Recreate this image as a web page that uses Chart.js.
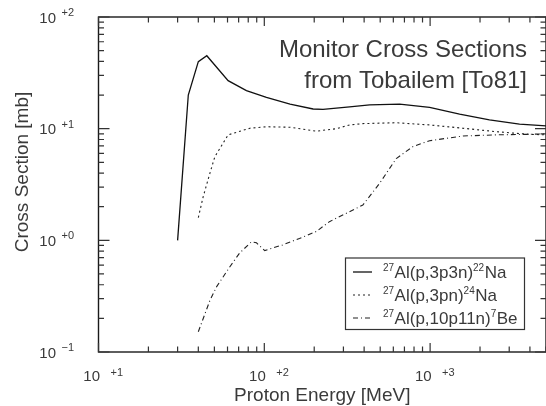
<!DOCTYPE html>
<html>
<head>
<meta charset="utf-8">
<script src="https://cdn.jsdelivr.net/npm/chart.js@4.4.1/dist/chart.umd.min.js"></script>
<style>
  html, body { margin: 0; padding: 0; background: #fff; }
  canvas { display: block; }
</style>
</head>
<body>
<canvas id="chart" width="546" height="406"></canvas>
<script>
// Tobailem [To81] monitor cross sections
const na22Energy = [30, 34.8, 40, 45, 60.5, 78, 103, 143, 197, 226, 327, 432, 655, 993, 1506, 2280, 3460, 5000];
const na22Sigma  = [1.0, 20, 39.8, 45, 26.9, 21.9, 19.1, 16.6, 15.0, 14.9, 15.7, 16.3, 16.6, 15.5, 13.5, 12.0, 11.0, 10.6];

const na24Energy = [40, 42.8, 47, 50.3, 60.5, 82, 103, 143, 206, 272, 327, 392, 625, 993, 1570, 2505, 3950, 5000];
const na24Sigma  = [1.6, 2.46, 4.0, 5.6, 8.8, 10.1, 10.4, 10.3, 9.5, 10.0, 10.8, 11.1, 11.3, 10.8, 10.1, 9.4, 8.9, 8.8];

const be7Energy = [40, 47, 51.6, 62, 71, 83.6, 89.7, 100.6, 129, 163, 206, 247, 393, 496, 625, 786, 993, 1580, 2505, 3950, 5000];
const be7Sigma  = [0.152, 0.29, 0.385, 0.58, 0.77, 0.97, 0.95, 0.81, 0.91, 1.04, 1.2, 1.47, 2.07, 3.24, 5.4, 6.9, 7.8, 8.6, 8.8, 8.9, 9.0];

// legend labels split as [superscript, text, superscript, text]
const seriesLabels = [
    ['27', 'Al(p,3p3n)', '22', 'Na'],
    ['27', 'Al(p,3pn)', '24', 'Na'],
    ['27', 'Al(p,10p11n)', '7', 'Be'],
];

const xDecades = [10, 100, 1000];
const yDecades = [0.1, 1, 10, 100];
const xRange = [10, 5000];
const yRange = [0.1, 100];

const titleLines = ['Monitor Cross Sections', 'from Tobailem [To81]'];
const xTitle = 'Proton Energy [MeV]';
const yTitle = 'Cross Section [mb]';

const FONT = '"Liberation Sans", Arial, Helvetica, sans-serif';
const INK = '#3a3a3a';

function zip(xs, ys) {
    return xs.map((x, i) => ({ x: x, y: ys[i] }));
}

// all 1..9 x 10^n positions inside a range
function logTicks(decades, min, max) {
    const out = [];
    decades.forEach(d => {
        for (let m = 1; m < 10; m++) {
            const v = d * m;
            if (v >= min * 0.999 && v <= max * 1.001) out.push(v);
        }
    });
    return out;
}

function isMajor(v) {
    const l = Math.log10(v);
    return Math.abs(l - Math.round(l)) < 1e-6;
}

function expText(v) {
    const e = Math.round(Math.log10(v));
    return e < 0 ? '\u2212' + (-e) : '+' + e;
}

const decorations = {
    id: 'decorations',
    afterDraw(chart) {
        const { ctx, chartArea: a, scales } = chart;
        const x = scales.x, y = scales.y;
        ctx.save();

        // frame
        ctx.strokeStyle = '#1a1a1a';
        ctx.lineWidth = 1.4;
        ctx.strokeRect(a.left, a.top, a.right - a.left, a.bottom - a.top);

        // inward tick marks on all four sides
        ctx.strokeStyle = '#333';
        ctx.lineWidth = 1.2;
        ctx.beginPath();
        logTicks(xDecades, xRange[0], xRange[1]).forEach(v => {
            const px = x.getPixelForValue(v);
            const len = isMajor(v) ? 9 : 5.5;
            ctx.moveTo(px, a.bottom); ctx.lineTo(px, a.bottom - len);
            ctx.moveTo(px, a.top); ctx.lineTo(px, a.top + len);
        });
        logTicks(yDecades, yRange[0], yRange[1]).forEach(v => {
            const py = y.getPixelForValue(v);
            const len = isMajor(v) ? 11 : 5.5;
            ctx.moveTo(a.left, py); ctx.lineTo(a.left + len, py);
            ctx.moveTo(a.right, py); ctx.lineTo(a.right - len, py);
        });
        ctx.stroke();

        // tick labels 10^(+n)
        ctx.fillStyle = INK;
        xDecades.forEach(v => {
            const px = x.getPixelForValue(v);
            ctx.font = '15px ' + FONT;
            ctx.textAlign = 'right';
            ctx.fillText('10', px + 1.5, a.bottom + 29);
            ctx.font = '11px ' + FONT;
            ctx.textAlign = 'left';
            ctx.fillText(expText(v), px + 12, a.bottom + 23.5);
        });
        yDecades.forEach(v => {
            const py = y.getPixelForValue(v);
            ctx.font = '15px ' + FONT;
            ctx.textAlign = 'right';
            ctx.fillText('10', a.left - 42.5, py + 5.5);
            ctx.font = '11px ' + FONT;
            ctx.textAlign = 'left';
            ctx.fillText(expText(v), a.left - 37, py - 1);
        });

        // axis titles
        ctx.font = '19px ' + FONT;
        ctx.textAlign = 'center';
        ctx.fillText(xTitle, (a.left + a.right) / 2, 401);
        ctx.save();
        ctx.translate(28, 172);
        ctx.rotate(-Math.PI / 2);
        ctx.fillText(yTitle, 0, 0);
        ctx.restore();

        // title block, right aligned inside the plot
        ctx.font = '24px ' + FONT;
        ctx.textAlign = 'right';
        ctx.fillText(titleLines[0], 527, 57);
        ctx.fillText(titleLines[1], 527, 88);

        // legend box
        const bx = 345.5, by = 258, bw = 179, bh = 71.5;
        ctx.fillStyle = '#fff';
        ctx.fillRect(bx, by, bw, bh);
        ctx.strokeStyle = '#333';
        ctx.lineWidth = 1.2;
        ctx.strokeRect(bx, by, bw, bh);
        chart.data.datasets.forEach((ds, i) => {
            const ry = by + 14 + i * 23;
            ctx.strokeStyle = ds.borderColor;
            ctx.lineWidth = ds.borderWidth;
            ctx.setLineDash(ds.borderDash || []);
            ctx.beginPath();
            ctx.moveTo(353, ry); ctx.lineTo(372, ry);
            ctx.stroke();
            ctx.setLineDash([]);
            ctx.fillStyle = INK;
            ctx.textAlign = 'left';
            let tx = 383;
            seriesLabels[i].forEach((part, k) => {
                const sup = k % 2 === 0;
                ctx.font = (sup ? '10px ' : '17px ') + FONT;
                ctx.fillText(part, tx, sup ? ry - 1.5 : ry + 6);
                tx += ctx.measureText(part).width + (sup ? 0.5 : 0);
            });
        });
        ctx.restore();
    }
};

new Chart(document.getElementById('chart'), {
    type: 'line',
    data: {
        datasets: [
            {
                label: '\u00b2\u2077Al(p,3p3n)\u00b2\u00b2Na',
                data: zip(na22Energy, na22Sigma),
                borderColor: '#111',
                borderWidth: 1.3,
            },
            {
                label: '\u00b2\u2077Al(p,3pn)\u00b2\u2074Na',
                data: zip(na24Energy, na24Sigma),
                borderColor: '#222',
                borderWidth: 1.1,
                borderDash: [2, 3],
            },
            {
                label: '\u00b2\u2077Al(p,10p11n)\u2077Be',
                data: zip(be7Energy, be7Sigma),
                borderColor: '#222',
                borderWidth: 1.1,
                borderDash: [5, 3, 1, 3],
            },
        ],
    },
    options: {
        responsive: false,
        animation: false,
        devicePixelRatio: 1,
        layout: { padding: { top: 17, right: 0, bottom: 0, left: 0 } },
        elements: {
            point: { radius: 0 },
            line: { tension: 0, fill: false },
        },
        scales: {
            x: {
                type: 'logarithmic',
                min: xRange[0],
                max: xRange[1],
                grid: { display: false },
                border: { display: false },
                ticks: { display: false },
                afterFit: scale => { scale.height = 54; },
            },
            y: {
                type: 'logarithmic',
                min: yRange[0],
                max: yRange[1],
                grid: { display: false },
                border: { display: false },
                ticks: { display: false },
                afterFit: scale => { scale.width = 98.5; },
            },
        },
        plugins: {
            legend: { display: false },
            tooltip: { enabled: false },
        },
    },
    plugins: [decorations],
});
</script>
</body>
</html>
